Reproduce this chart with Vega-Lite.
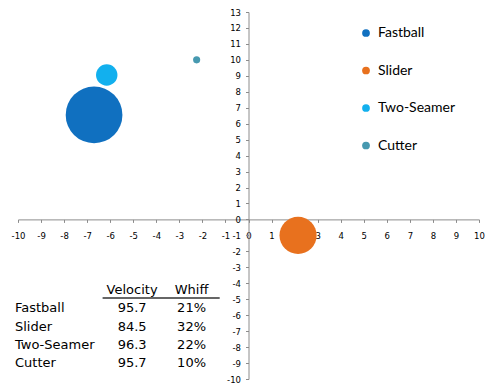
{
  "$schema": "https://vega.github.io/schema/vega-lite/v6.json",
  "width": 461,
  "height": 367,
  "autosize": {"type": "none"},
  "padding": {"left": 18, "top": 12, "right": 18, "bottom": 13},
  "background": "#ffffff",
  "config": {
    "view": {"stroke": null},
    "axis": {
      "grid": false,
      "domainColor": "#8c8c8c",
      "tickColor": "#8c8c8c",
      "labelColor": "#000000",
      "labelFont": "DejaVu Sans",
      "labelFontSize": 8.5,
      "labelOverlap": false,
      "labelExpr": "'' + datum.value",
      "title": null
    }
  },
  "resolve": {"scale": {"y": "independent"}},
  "layer": [
    {
      "data": {
        "values": [
          {"pitch": "Fastball", "x": -6.7, "y": 6.55, "usage": 63},
          {"pitch": "Slider", "x": 2.15, "y": -1.0, "usage": 27},
          {"pitch": "Two-Seamer", "x": -6.15, "y": 9.05, "usage": 9},
          {"pitch": "Cutter", "x": -2.25, "y": 10.0, "usage": 1}
        ]
      },
      "mark": {"type": "circle", "opacity": 1},
      "encoding": {
        "x": {
          "field": "x",
          "type": "quantitative",
          "scale": {"domain": [-10, 10], "nice": false, "zero": false},
          "axis": {
            "orient": "bottom",
            "offset": -159.6,
            "values": [-10, -9, -8, -7, -6, -5, -4, -3, -2, -1, 0, 1, 2, 3, 4, 5, 6, 7, 8, 9, 10],
            "tickCount": 21,
            "labelOverlap": false,
            "tickSize": 3,
            "labelPadding": 9,
            "labelFlush": false
          }
        },
        "y": {
          "field": "y",
          "type": "quantitative",
          "scale": {"domain": [-10, 13], "nice": false, "zero": false},
          "axis": {
            "orient": "left",
            "offset": -230.5,
            "values": [-10, -9, -8, -7, -6, -5, -4, -3, -2, -1, 0, 1, 2, 3, 4, 5, 6, 7, 8, 9, 10, 11, 12, 13],
            "labelOverlap": false,
            "tickSize": 3,
            "labelPadding": 5,
            "labelFlush": false
          }
        },
        "color": {
          "field": "pitch",
          "type": "nominal",
          "scale": {
            "domain": ["Fastball", "Slider", "Two-Seamer", "Cutter"],
            "range": ["#1070c0", "#e8711e", "#12b0ee", "#4799b0"]
          },
          "legend": {
            "title": null,
            "orient": "none",
            "legendX": 341,
            "legendY": 14,
            "padding": 0,
            "symbolType": "circle",
            "symbolSize": 60,
            "symbolStrokeWidth": 0,
            "symbolOpacity": 1,
            "labelFont": "Lato",
            "labelFontSize": 14,
            "labelColor": "#000000",
            "labelOffset": 5,
            "rowPadding": 23.5
          }
        },
        "size": {
          "field": "usage",
          "type": "quantitative",
          "scale": {"type": "linear", "zero": true, "domain": [0, 63], "range": [0, 3217]},
          "legend": null
        }
      }
    },
    {
      "data": {
        "values": [
          {"pitch": "Fastball", "velocity": 95.7, "whiff": 0.21},
          {"pitch": "Slider", "velocity": 84.5, "whiff": 0.32},
          {"pitch": "Two-Seamer", "velocity": 96.3, "whiff": 0.22},
          {"pitch": "Cutter", "velocity": 95.7, "whiff": 0.10}
        ]
      },
      "layer": [
        {
          "mark": {"type": "text", "align": "left", "baseline": "middle", "dx": -3, "font": "DejaVu Sans", "fontSize": 13, "color": "#000000"},
          "encoding": {
            "x": {"datum": -10, "type": "quantitative"},
            "y": {
              "field": "pitch",
              "type": "nominal",
              "scale": {"type": "point", "domain": ["header", "Fastball", "Slider", "Two-Seamer", "Cutter"], "range": [278, 351], "padding": 0},
              "axis": null
            },
            "text": {"field": "pitch"}
          }
        },
        {
          "mark": {"type": "text", "align": "center", "baseline": "middle", "font": "DejaVu Sans", "fontSize": 13, "color": "#000000"},
          "encoding": {
            "x": {"datum": -5.05, "type": "quantitative"},
            "y": {"field": "pitch", "type": "nominal", "axis": null},
            "text": {"field": "velocity", "type": "quantitative", "format": ".1f"}
          }
        },
        {
          "mark": {"type": "text", "align": "center", "baseline": "middle", "font": "DejaVu Sans", "fontSize": 13, "color": "#000000"},
          "encoding": {
            "x": {"datum": -2.47, "type": "quantitative"},
            "y": {"field": "pitch", "type": "nominal", "axis": null},
            "text": {"field": "whiff", "type": "quantitative", "format": ".0%"}
          }
        },
        {
          "data": {"values": [{"label": "Velocity"}]},
          "mark": {"type": "text", "align": "center", "baseline": "middle", "font": "DejaVu Sans", "fontSize": 13, "color": "#000000"},
          "encoding": {
            "x": {"datum": -5.05, "type": "quantitative"},
            "y": {"datum": "header", "type": "nominal", "axis": null},
            "text": {"field": "label"}
          }
        },
        {
          "data": {"values": [{"label": "Whiff"}]},
          "mark": {"type": "text", "align": "center", "baseline": "middle", "font": "DejaVu Sans", "fontSize": 13, "color": "#000000"},
          "encoding": {
            "x": {"datum": -2.47, "type": "quantitative"},
            "y": {"datum": "header", "type": "nominal", "axis": null},
            "text": {"field": "label"}
          }
        },
        {
          "data": {"values": [{"label": "underline"}]},
          "mark": {"type": "rule", "color": "#333333", "strokeWidth": 1.3, "yOffset": 8},
          "encoding": {
            "x": {"datum": -6.33, "type": "quantitative"},
            "x2": {"datum": -1.25},
            "y": {"datum": "header", "type": "nominal", "axis": null}
          }
        }
      ]
    }
  ]
}
